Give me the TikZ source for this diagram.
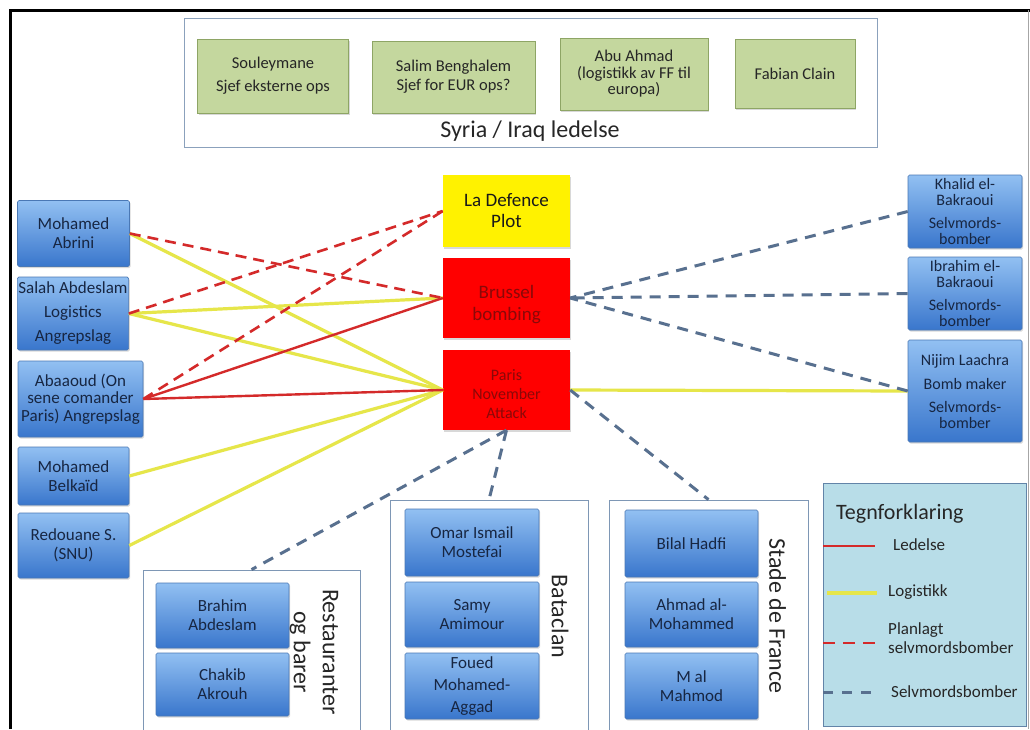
\documentclass[tikz,border=0pt]{standalone}
\usepackage{fontspec}
\setmainfont{Carlito}
\usetikzlibrary{shadows}
\definecolor{bluetop}{HTML}{92C0F2}
\definecolor{bluebot}{HTML}{3976CC}
\definecolor{blueborder}{HTML}{4A78B5}
\definecolor{navytext}{HTML}{172642}
\definecolor{greenfill}{HTML}{C4D79E}
\definecolor{greenborder}{HTML}{8EA565}
\definecolor{ledred}{HTML}{D42A2A}
\definecolor{logyellow}{HTML}{E6E64A}
\definecolor{selvblue}{HTML}{58708F}
\definecolor{legendfill}{HTML}{B8DDE8}
\definecolor{legendborder}{HTML}{6284A8}
\definecolor{groupborder}{HTML}{7E97B5}
\definecolor{darkredtext}{HTML}{8A0808}
\tikzset{
  person/.style={draw=blueborder, line width=0.6pt, top color=bluetop, bottom color=bluebot,
    rounded corners=1.5pt, text=navytext, align=center, inner sep=1pt,
    font=\fontsize{17}{19}\selectfont,
    drop shadow={shadow xshift=1.2pt, shadow yshift=-1.5pt, opacity=0.3}},
  leader/.style={draw=greenborder, line width=0.7pt, fill=greenfill, align=center, inner sep=1pt,
    text=black!85, font=\fontsize{16.5}{19}\selectfont,
    drop shadow={shadow xshift=1.2pt, shadow yshift=-1.5pt, opacity=0.3}},
  event/.style={draw=none, align=center, inner sep=1pt, minimum width=127, text=darkredtext,
    drop shadow={shadow xshift=1.2pt, shadow yshift=-1.5pt, opacity=0.3}},
  groupbox/.style={draw=groupborder, line width=0.8pt, fill=white, inner sep=0pt},
  grouplabel/.style={rotate=-90, align=center, text=black!85, font=\fontsize{24}{29}\selectfont},
  logi/.style={draw=logyellow, line width=3.2pt},
  lede/.style={draw=ledred, line width=2.4pt},
  plan/.style={draw=ledred, line width=2.6pt, dash pattern=on 11pt off 7pt},
  selv/.style={draw=selvblue, line width=3pt, dash pattern=on 11pt off 8pt},
  legtext/.style={anchor=west, align=left, text=black!85, font=\fontsize{17}{19}\selectfont, inner sep=0pt}
}
\begin{document}
\begin{tikzpicture}[x=1pt,y=-1pt]
\useasboundingbox[fill=white] (0,0) rectangle (1030,729);
% frame
\draw[line width=2.8pt] (10.5,729) -- (10.5,10.5) -- (1030,10.5);
\draw[gray!70, line width=1pt] (1028.5,10) -- (1028.5,729);

% top leadership box
\node[groupbox, draw=groupborder!90, minimum width=693, minimum height=129] (syria) at (530.5,82.5) {};
\node[font=\fontsize{24}{28}\selectfont, text=black!85] (syrialbl) at (530,131) {Syria / Iraq ledelse};
\node[leader, minimum width=151, minimum height=74] (soul) at (273,76) {Souleymane\\[4pt]Sjef eksterne ops};
\node[leader, minimum width=163, minimum height=72] (salim) at (453.5,77) {Salim Benghalem\\Sjef for EUR ops?};
\node[leader, minimum width=148, minimum height=72, font=\fontsize{16.5}{16.5}\selectfont] (abu) at (634,74) {Abu Ahmad\\(logistikk av FF til\\europa)};
\node[leader, minimum width=120, minimum height=69] (fabian) at (795,73.5) {Fabian Clain};

% group boxes (bottom)
\node[groupbox, minimum width=217, minimum height=170] (rest) at (251.5,655) {};
\node[groupbox, minimum width=198, minimum height=240] (batagrp) at (489,620) {};
\node[groupbox, minimum width=199, minimum height=240] (stadegrp) at (708.5,620) {};

% legend
\node[draw=legendborder, line width=0.8pt, fill=legendfill, minimum width=203, minimum height=243, inner sep=0pt] (legend) at (924.5,604.5) {};
\node[anchor=west, font=\fontsize{22}{26}\selectfont, text=black!85, inner sep=0pt] (legtitle) at (836,514) {Tegnforklaring};
\coordinate (l1a) at (823,546); \coordinate (l1b) at (875,546);
\coordinate (l2a) at (827,593); \coordinate (l2b) at (877,593);
\coordinate (l3a) at (823,643); \coordinate (l3b) at (875,643);
\coordinate (l4a) at (823,692); \coordinate (l4b) at (875,692);
\draw[lede] (l1a) -- (l1b);
\draw[logi] (l2a) -- (l2b);
\draw[plan, dash pattern=on 12pt off 8pt] (l3a) -- (l3b);
\draw[selv, dash pattern=on 10pt off 9pt] (l4a) -- (l4b);
\node[legtext] (t1) at (893,545) {Ledelse};
\node[legtext] (t2) at (888,592) {Logistikk};
\node[legtext] (t3) at (888,638) {Planlagt\\selvmordsbomber};
\node[legtext] (t4) at (891,692) {Selvmordsbomber};

% left people
\node[person, minimum width=112, minimum height=66] (abrini) at (73.5,233.5) {Mohamed\\Abrini};
\node[person, minimum width=110, minimum height=73] (salah) at (73,313.5) {Salah Abdeslam\\[5pt]Logistics\\[5pt]Angrepslag};
\node[person, minimum width=125, minimum height=76, font=\fontsize{17}{17.5}\selectfont] (abaaoud) at (80.5,399) {Abaaoud (On\\sene comander\\Paris) Angrepslag};
\node[person, minimum width=111, minimum height=58] (belkaid) at (73.5,476) {Mohamed\\Belkaïd};
\node[person, minimum width=111, minimum height=65] (redouane) at (73.5,545.5) {Redouane S.\\(SNU)};

% center events
\node[event, fill=yellow, text=black!90, minimum height=72, font=\fontsize{19}{21}\selectfont] (defence) at (506.5,211) {La Defence\\Plot};
\node[event, fill=red, minimum height=80, font=\fontsize{19}{22}\selectfont] (brussel) at (506.5,298) {\rule{0pt}{26pt}Brussel\\bombing};
\node[event, fill=red, minimum height=80, font=\fontsize{16}{19}\selectfont] (paris) at (506.5,390) {\rule{0pt}{20pt}Paris\\November\\Attack};

% right people
\node[person, minimum width=114, minimum height=73, font=\fontsize{16}{16}\selectfont] (khalid) at (965,211.5) {Khalid el-\\Bakraoui\\[7pt]Selvmords-\\bomber};
\node[person, minimum width=114, minimum height=73, font=\fontsize{16}{16}\selectfont] (ibrahim) at (965,293.5) {Ibrahim el-\\Bakraoui\\[7pt]Selvmords-\\bomber};
\node[person, minimum width=114, minimum height=102, font=\fontsize{16}{16}\selectfont] (nijim) at (965,391) {Nijim Laachra\\[8pt]Bomb maker\\[7pt]Selvmords-\\bomber};

% bottom people
\node[person, minimum width=133, minimum height=65] (brahim) at (222.5,615.5) {Brahim\\Abdeslam};
\node[person, minimum width=133, minimum height=63] (chakib) at (222.5,684.5) {Chakib\\Akrouh};
\node[grouplabel] (restlbl) at (314,652) {Restauranter\\og barer};

\node[person, minimum width=134, minimum height=67] (omar) at (472,542.5) {Omar Ismail\\Mostefai};
\node[person, minimum width=134, minimum height=65] (samy) at (472,614.5) {Samy\\Amimour};
\node[person, minimum width=134, minimum height=66, font=\fontsize{17}{22}\selectfont] (foued) at (472,686) {Foued\\Mohamed-\\Aggad};
\node[grouplabel] (batalbl) at (560,616.5) {Bataclan};

\node[person, minimum width=133, minimum height=67] (bilal) at (691.5,543.5) {Bilal Hadfi};
\node[person, minimum width=133, minimum height=65] (ahmad) at (691.5,614.5) {Ahmad al-\\Mohammed};
\node[person, minimum width=133, minimum height=66] (mal) at (691.5,686) {M al\\Mahmod};
\node[grouplabel] (stadelbl) at (777.5,616) {Stade de France};

% connectors: logistikk
\draw[logi] (abrini.east) -- (paris.west);
\draw[logi] (salah.east) -- (brussel.west);
\draw[logi] (salah.east) -- (paris.west);
\draw[logi] (belkaid.east) -- (paris.west);
\draw[logi] (redouane.east) -- (paris.west);
\draw[logi] (paris.east) -- (nijim.west);
% ledelse
\draw[lede] (abaaoud.east) -- (brussel.west);
\draw[lede] (abaaoud.east) -- (paris.west);
% planlagt
\draw[plan] (abrini.east) -- (brussel.west);
\draw[plan] (salah.east) -- (defence.west);
\draw[plan] (abaaoud.east) -- (defence.west);
% selvmordsbomber
\draw[selv] (khalid.west) -- (brussel.east);
\draw[selv] (ibrahim.west) -- (brussel.east);
\draw[selv] (nijim.west) -- (brussel.east);
\draw[selv] (paris.south) -- (rest.north);
\draw[selv] (paris.south) -- (batagrp.north);
\draw[selv] (paris.east) -- (stadegrp.north);
\end{tikzpicture}
\end{document}
